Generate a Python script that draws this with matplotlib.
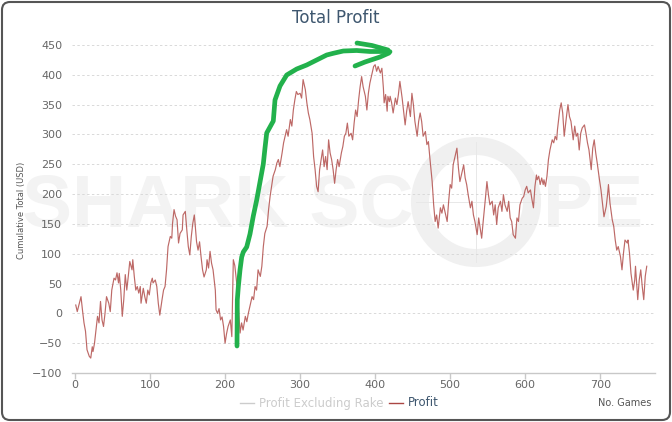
import matplotlib
matplotlib.use("Agg")
import matplotlib.pyplot as plt
from matplotlib.lines import Line2D
from matplotlib.patches import FancyBboxPatch, Circle
from matplotlib.transforms import IdentityTransform

# ---------------- data ----------------
title = "Total Profit"
y_label = "Cumulative Total (USD)"
x_label = "No. Games"
series_names = ["Profit Excluding Rake", "Profit"]
x_ticks = [0, 100, 200, 300, 400, 500, 600, 700]
y_ticks = [-100, -50, 0, 50, 100, 150, 200, 250, 300, 350, 400, 450]

games = [1, 3, 8, 10, 12, 14, 16, 19, 21, 23, 24, 26, 28, 30, 32, 34, 36, 38, 40, 42,
         45, 47, 49, 52, 54, 56, 58, 59, 61, 63, 65, 67, 69, 71, 73, 76, 77, 79, 81, 83,
         85, 87, 88, 91, 93, 95, 97, 99, 101, 103, 104, 107, 109, 111, 113, 116, 118, 120, 122, 124,
         127, 129, 130, 132, 134, 136, 138, 140, 143, 144, 147, 149, 151, 153, 155, 157, 159, 160, 162, 164,
         166, 168, 170, 172, 175, 176, 178, 180, 182, 184, 187, 188, 190, 192, 194, 196, 198, 200, 202, 204,
         207, 209, 211, 213, 216, 218, 220, 222, 224, 227, 229, 231, 233, 236, 238, 240, 242, 244, 247, 249,
         251, 253, 256, 258, 260, 262, 264, 267, 269, 271, 273, 276, 278, 280, 282, 284, 287, 289, 291, 293,
         295, 297, 300, 302, 304, 307, 309, 311, 313, 316, 318, 320, 322, 324, 326, 328, 330, 332, 334, 336,
         338, 340, 342, 344, 346, 348, 350, 352, 355, 357, 359, 361, 363, 365, 368, 370, 372, 374, 376, 378,
         380, 382, 384, 387, 389, 391, 393, 396, 398,
         400, 402, 404, 407, 409, 411, 412, 414, 416, 417, 419, 420, 422, 424, 427, 429, 431, 433, 436, 438,
         440, 442, 444, 447, 449, 451, 453, 456, 458, 460, 462, 464, 467, 469, 471, 473, 476, 478, 480, 482,
         484, 487, 489, 491, 493, 496, 498, 500, 502, 504, 507, 509, 511, 513, 516, 518, 520, 522, 524, 527,
         529, 531, 533, 536, 538, 540, 542, 544, 547, 549, 551, 553, 556, 558, 560, 562, 564, 567, 569, 571,
         573, 576, 578, 580, 582, 584, 587, 589, 591, 593, 596,
         598, 600, 602, 604, 607, 609, 611, 613, 615, 616, 618, 620, 622, 624, 625, 627, 629, 631, 633, 636,
         638, 640, 642, 643, 646, 648, 650, 652, 655, 657, 659, 661, 664, 666, 668, 670, 672, 674, 676, 679,
         681, 683, 685, 688, 690, 692, 694, 696, 699, 701, 703, 705, 708, 710, 711, 713, 716, 718, 720, 722,
         724, 727, 729, 731, 733, 736, 737, 739, 741, 744, 746, 747, 750, 752, 754, 756, 758, 760, 762]

profit = [14, 3, 28, 5, -16, -30, -61, -72, -75, -56, -64, -50, -28, -5, -16, 20, -11, -22, 0, 28,
          17, 3, 39, 59, 56, 68, 51, 67, 39, -5, 23, 65, 39, 62, 87, 73, 90, 62, 39, 45,
          34, 45, 17, 42, 28, 17, 39, 31, 51, 59, 51, 56, 45, 17, -3, 23, 39, 45, 73, 112,
          129, 126, 151, 174, 163, 157, 118, 134, 140, 165, 171, 140, 112, 98, 129, 151, 165, 151, 120, 106,
          120, 95, 73, 61, 73, 90, 76, 104, 84, 73, 39, 6, 0, 8, -11, -6, -22, -50, -34, -22,
          -11, -39, 90, 80, 45, 6, -33, -16, -28, -5, -14, 0, 11, 28, 23, 45, 39, 73, 62, 79,
          112, 134, 146, 174, 196, 213, 230, 241, 252, 258, 246, 269, 286, 297, 308, 297, 325, 314, 341, 358,
          372, 367, 369, 361, 392, 375, 353, 336, 325, 302, 263, 241, 213, 204, 241, 258, 274, 246, 263, 241,
          291, 269, 258, 241, 218, 241, 258, 246, 269, 280, 297, 302, 319, 297, 302, 291, 319, 341, 330, 358,
          380, 397, 380, 364, 341, 369, 386, 403, 414,
          417, 406, 414, 403, 411, 378, 353, 367, 339, 364, 355, 364, 353, 336, 361, 350, 367, 389, 361, 339,
          316, 339, 355, 330, 369, 350, 322, 297, 322, 336, 322, 297, 305, 283, 288, 260, 221, 182, 154, 165,
          143, 177, 168, 182, 171, 154, 188, 216, 210, 249, 266, 277, 244, 221, 238, 249, 227, 216, 199, 177,
          188, 165, 154, 132, 160, 143, 126, 154, 193, 221, 199, 182, 188, 165, 182, 149, 177, 188, 171, 199,
          182, 171, 188, 160, 154, 132, 126, 160, 154, 182, 193,
          196, 207, 213, 202, 207, 191, 177, 213, 232, 224, 230, 216, 227, 216, 224, 213, 230, 258, 274, 291,
          286, 297, 291, 308, 341, 353, 336, 297, 330, 350, 330, 322, 291, 314, 297, 302, 274, 302, 311, 316,
          302, 286, 274, 241, 277, 291, 269, 252, 224, 207, 185, 162, 179, 202, 216, 185, 157, 146, 123, 106,
          112, 95, 73, 101, 123, 118, 123, 101, 67, 39, 56, 79, 23, 56, 73, 45, 23, 62, 79]

# ---------------- figure ----------------
W, H = 672, 422
fig = plt.figure(figsize=(W / 100, H / 100), dpi=100)
fig.patch.set_facecolor("white")

def fx(px):
    return px / W

def fy(py):
    return 1 - py / H

ax = fig.add_axes([fx(72), fy(373), fx(655) - fx(72), fy(45) - fy(373)])
ax.set_facecolor("none")

# watermark (behind the axes)
wm_color = "#f3f3f3"
fig.text(fx(22), fy(227), "SHARK SC", fontsize=54, fontweight="bold",
         family="Liberation Sans", color=wm_color, ha="left", va="baseline", zorder=-5)
fig.text(fx(643), fy(227), "PE", fontsize=54, fontweight="bold",
         family="Liberation Sans", color=wm_color, ha="right", va="baseline", zorder=-5)
ring = Circle((476, H - 202), 56, fill=False, lw=13, edgecolor="#f0f0f0",
              transform=IdentityTransform(), zorder=-5)
fig.add_artist(ring)
for seg in [((476, 476), (H - 262, H - 142)), ((416, 536), (H - 202, H - 202))]:
    fig.add_artist(Line2D(seg[0], seg[1], color="#e8e8e8", lw=0.7,
                          transform=IdentityTransform(), zorder=-5))

# data line
ax.plot(games, profit, color="#b24f4c", lw=0.85, alpha=0.85, zorder=3)

ax.set_xlim(-4, 773)
ax.set_ylim(-100, 450)
ax.set_xticks(x_ticks)
ax.set_yticks(y_ticks)
ax.yaxis.grid(True, color="#d9d9d9", linestyle=(0, (2.5, 2.5)), lw=0.7)
ax.set_axisbelow(True)
for s in ["top", "right", "left"]:
    ax.spines[s].set_visible(False)
ax.spines["bottom"].set_color("#c8c8c8")
ax.spines["bottom"].set_linewidth(1.0)
ax.tick_params(axis="y", length=0, pad=7, labelsize=8, labelcolor="#666666")
ax.tick_params(axis="x", length=4, width=1, color="#c8c8c8", pad=1,
               labelsize=8, labelcolor="#666666")

# titles
fig.text(0.5, fy(18), title, fontsize=12, color="#3E576F", ha="center", va="center")
fig.text(fx(22), fy(210), y_label, rotation=90, fontsize=6, color="#555555",
         ha="center", va="center")
fig.text(fx(651), fy(403), x_label, fontsize=7, color="#555555", ha="right", va="center")

# legend
ly = fy(403)
fig.add_artist(Line2D([fx(240), fx(254)], [ly, ly], color="#cccccc", lw=1))
fig.text(fx(259), ly, series_names[0], fontsize=8.5, color="#cccccc", ha="left", va="center")
fig.add_artist(Line2D([fx(389), fx(403)], [ly, ly], color="#AA4643", lw=1))
fig.text(fx(408), ly, series_names[1], fontsize=8.5, color="#3E576F", ha="left", va="center")

# hand-drawn green arrow annotation (figure pixel space)
arrow_main = [(237, 346), (237.3, 300), (238.3, 287), (240, 270), (241.7, 257), (243.3, 252),
              (246.7, 247), (250, 234), (253.3, 216), (256.7, 200), (260, 182), (263.3, 164),
              (265, 148), (266.7, 133), (270, 127), (273.3, 121), (275, 100), (280, 86),
              (286.7, 75), (296.7, 69), (306.7, 65), (316.7, 60), (326.7, 55), (333.3, 53.3),
              (343.3, 51), (356.7, 50.5), (370, 51.5), (383.3, 51.5), (390, 51.7)]
arrow_up = [(357, 43), (372, 45.5), (388, 50)]
arrow_low = [(355, 66), (365, 62), (380, 57), (389, 53)]
for path in (arrow_main, arrow_up, arrow_low):
    xs = [fx(p[0]) for p in path]
    ys = [fy(p[1]) for p in path]
    fig.add_artist(Line2D(xs, ys, color="#22b14c", lw=3.4, solid_capstyle="round",
                          solid_joinstyle="round", zorder=10))

# rounded border
border = FancyBboxPatch((2, 2), W - 4, H - 4, boxstyle="round,pad=0,rounding_size=8",
                        fill=False, edgecolor="#555555", lw=1.5,
                        transform=IdentityTransform(), zorder=20)
fig.add_artist(border)

fig.savefig("out.png", dpi=100, facecolor="white")
